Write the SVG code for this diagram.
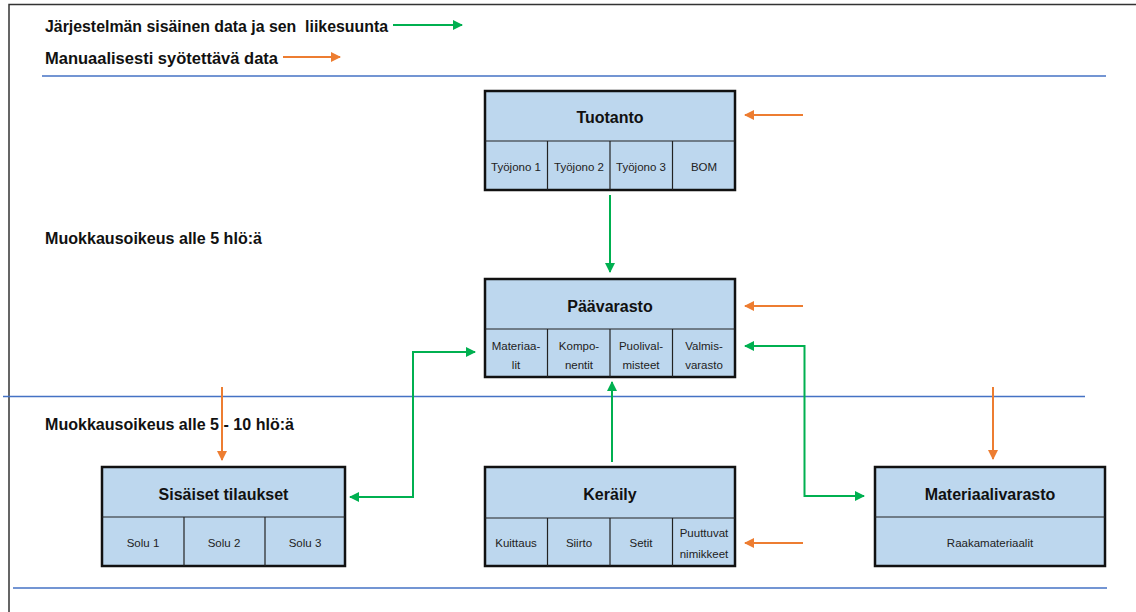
<svg xmlns="http://www.w3.org/2000/svg" width="1136" height="612" viewBox="0 0 1136 612">
  <style>
    .frame { stroke: #333; stroke-width: 1.5; fill: none; }
    .sep { stroke: #4472C4; stroke-width: 1.3; fill: none; }
    .box { fill: #BDD7EE; stroke: #111; stroke-width: 2.5; }
    .div { stroke: #222; stroke-width: 1.2; }
    .title { font-family: "Liberation Sans", Arial, sans-serif; font-weight: bold; font-size: 16px; fill: #111; text-anchor: middle; }
    .cell { font-family: "Liberation Sans", Arial, sans-serif; font-size: 11.5px; fill: #222; text-anchor: middle; }
    .label { font-family: "Liberation Sans", Arial, sans-serif; font-weight: bold; font-size: 17px; fill: #111; }
    .g { stroke: #00B050; stroke-width: 2; fill: none; }
    .o { stroke: #ED7D31; stroke-width: 2; fill: none; }
  </style>
  <defs>
    <marker id="ag" viewBox="0 0 10 10" refX="9" refY="5" markerWidth="5" markerHeight="5" orient="auto-start-reverse" markerUnits="strokeWidth">
      <path d="M0,0 L10,5 L0,10 z" fill="#00B050"/>
    </marker>
    <marker id="ao" viewBox="0 0 10 10" refX="9" refY="5" markerWidth="5" markerHeight="5" orient="auto-start-reverse" markerUnits="strokeWidth">
      <path d="M0,0 L10,5 L0,10 z" fill="#ED7D31"/>
    </marker>
  </defs>

  <rect width="1136" height="612" fill="#fff"/>

  <!-- page frame -->
  <path class="frame" d="M9,612 V4.5 H1136"/>

  <!-- section separators -->
  <line class="sep" x1="42" y1="76" x2="1106" y2="76"/>
  <line class="sep" x1="3" y1="396.5" x2="1085" y2="396.5"/>
  <line class="sep" x1="13" y1="588" x2="1107" y2="588"/>

  <!-- legend -->
  <g id="legend">
    <text class="label" x="45" y="32" textLength="343" lengthAdjust="spacingAndGlyphs" xml:space="preserve">Järjestelmän sisäinen data ja sen  liikesuunta</text>
    <text class="label" x="45" y="64" textLength="233" lengthAdjust="spacingAndGlyphs">Manuaalisesti syötettävä data</text>
    <line class="g" x1="393" y1="25" x2="462" y2="25" marker-end="url(#ag)"/>
    <line class="o" x1="283" y1="57" x2="340" y2="57" marker-end="url(#ao)"/>
  </g>

  <g id="access-labels">
    <text class="label" x="45" y="244" textLength="217" lengthAdjust="spacingAndGlyphs">Muokkausoikeus alle 5 hlö:ä</text>
    <text class="label" x="45" y="430" textLength="249" lengthAdjust="spacingAndGlyphs">Muokkausoikeus alle 5 - 10 hlö:ä</text>
  </g>

  <!-- Tuotanto -->
  <g id="tuotanto">
    <rect class="box" x="485" y="91" width="250" height="99"/>
    <line class="div" x1="485" y1="141" x2="735" y2="141"/>
    <line class="div" x1="547.5" y1="141" x2="547.5" y2="190"/>
    <line class="div" x1="610" y1="141" x2="610" y2="190"/>
    <line class="div" x1="672.5" y1="141" x2="672.5" y2="190"/>
    <text class="title" x="610" y="123">Tuotanto</text>
    <text class="cell" x="516" y="171">Työjono 1</text>
    <text class="cell" x="579" y="171">Työjono 2</text>
    <text class="cell" x="641" y="171">Työjono 3</text>
    <text class="cell" x="704" y="171">BOM</text>
  </g>

  <!-- Päävarasto -->
  <g id="paavarasto">
    <rect class="box" x="485" y="279" width="250" height="98"/>
    <line class="div" x1="485" y1="329" x2="735" y2="329"/>
    <line class="div" x1="547.5" y1="329" x2="547.5" y2="377"/>
    <line class="div" x1="610" y1="329" x2="610" y2="377"/>
    <line class="div" x1="672.5" y1="329" x2="672.5" y2="377"/>
    <text class="title" x="610" y="312">Päävarasto</text>
    <text class="cell" x="516" y="350">Materiaa-</text>
    <text class="cell" x="516" y="369">lit</text>
    <text class="cell" x="579" y="350">Kompo-</text>
    <text class="cell" x="579" y="369">nentit</text>
    <text class="cell" x="641" y="350">Puolival-</text>
    <text class="cell" x="641" y="369">misteet</text>
    <text class="cell" x="704" y="350">Valmis-</text>
    <text class="cell" x="704" y="369">varasto</text>
  </g>

  <!-- Sisäiset tilaukset -->
  <g id="sisaiset-tilaukset">
    <rect class="box" x="102" y="467" width="243" height="99"/>
    <line class="div" x1="102" y1="517" x2="345" y2="517"/>
    <line class="div" x1="184" y1="517" x2="184" y2="566"/>
    <line class="div" x1="265" y1="517" x2="265" y2="566"/>
    <text class="title" x="223.5" y="500">Sisäiset tilaukset</text>
    <text class="cell" x="143" y="547">Solu 1</text>
    <text class="cell" x="224" y="547">Solu 2</text>
    <text class="cell" x="305" y="547">Solu 3</text>
  </g>

  <!-- Keräily -->
  <g id="keraily">
    <rect class="box" x="485" y="467" width="250" height="99"/>
    <line class="div" x1="485" y1="518" x2="735" y2="518"/>
    <line class="div" x1="547.5" y1="518" x2="547.5" y2="566"/>
    <line class="div" x1="610" y1="518" x2="610" y2="566"/>
    <line class="div" x1="672.5" y1="518" x2="672.5" y2="566"/>
    <text class="title" x="610" y="500">Keräily</text>
    <text class="cell" x="516" y="547">Kuittaus</text>
    <text class="cell" x="579" y="547">Siirto</text>
    <text class="cell" x="641" y="547">Setit</text>
    <text class="cell" x="704" y="537">Puuttuvat</text>
    <text class="cell" x="704" y="558">nimikkeet</text>
  </g>

  <!-- Materiaalivarasto -->
  <g id="materiaalivarasto">
    <rect class="box" x="875" y="467" width="230" height="99"/>
    <line class="div" x1="875" y1="517" x2="1105" y2="517"/>
    <text class="title" x="990" y="500">Materiaalivarasto</text>
    <text class="cell" x="990" y="547">Raakamateriaalit</text>
  </g>

  <!-- connectors -->
  <g id="connectors">
    <!-- system data flows -->
    <line class="g" x1="610" y1="195" x2="610" y2="272" marker-end="url(#ag)"/>
    <line class="g" x1="612" y1="462" x2="612" y2="382" marker-end="url(#ag)"/>
    <polyline class="g" points="475,352 413,352 413,497 350,497" marker-start="url(#ag)" marker-end="url(#ag)"/>
    <polyline class="g" points="745,346 804.5,346 804.5,496 864,496" marker-start="url(#ag)" marker-end="url(#ag)"/>
    <!-- manual inputs -->
    <line class="o" x1="803" y1="115" x2="745" y2="115" marker-end="url(#ao)"/>
    <line class="o" x1="803" y1="306" x2="745" y2="306" marker-end="url(#ao)"/>
    <line class="o" x1="803" y1="543" x2="745" y2="543" marker-end="url(#ao)"/>
    <line class="o" x1="222" y1="387" x2="222" y2="460" marker-end="url(#ao)"/>
    <line class="o" x1="993" y1="387" x2="993" y2="459" marker-end="url(#ao)"/>
  </g>
</svg>
